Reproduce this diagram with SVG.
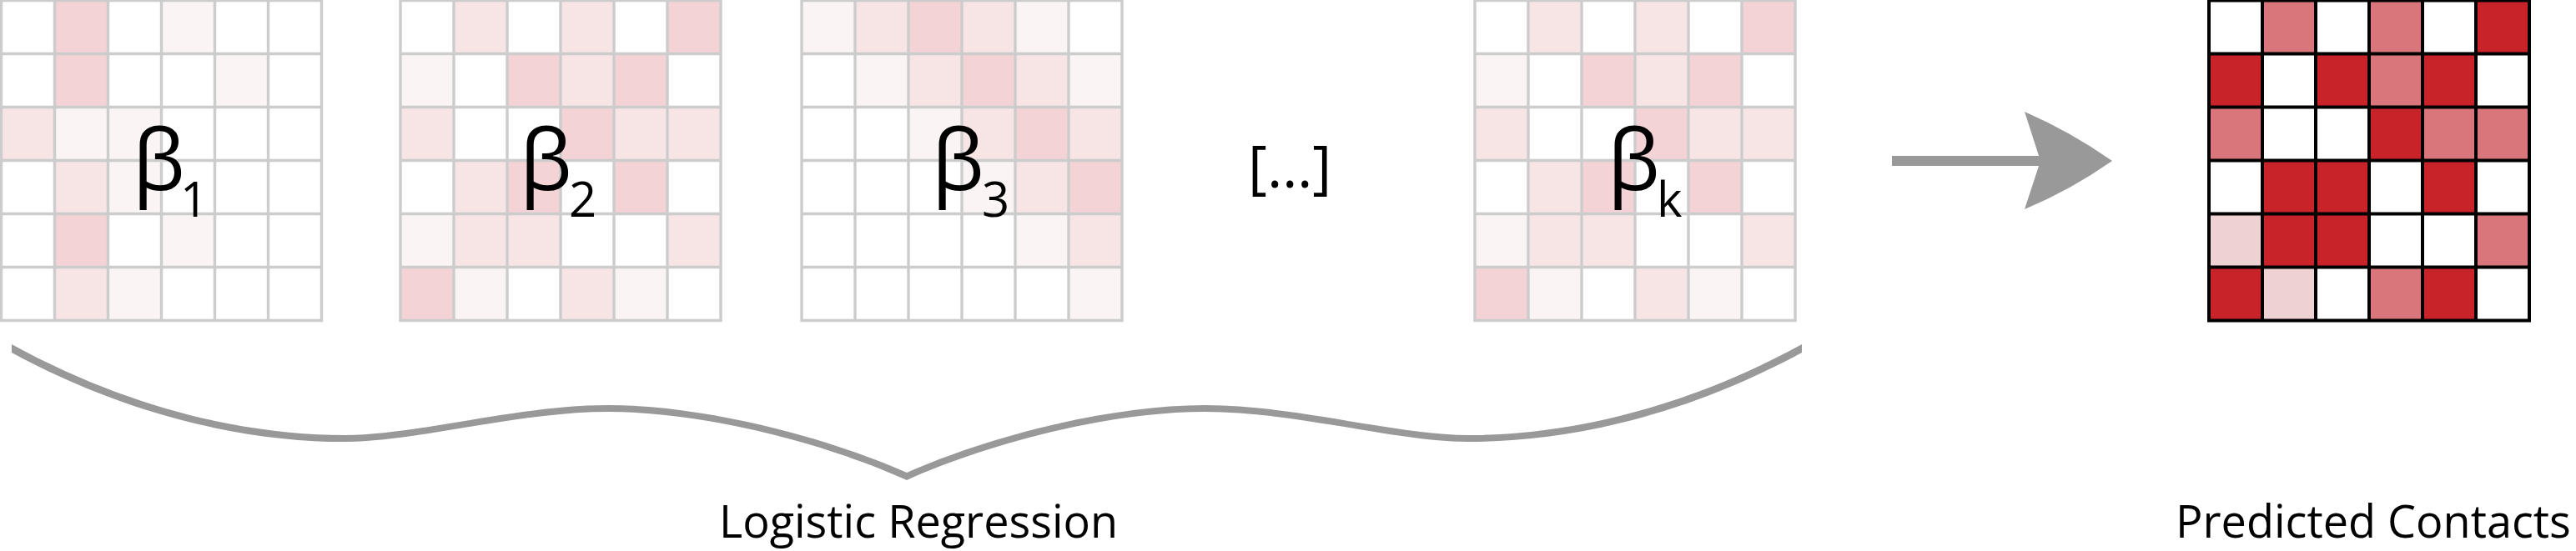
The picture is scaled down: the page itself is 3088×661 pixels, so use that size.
<svg xmlns="http://www.w3.org/2000/svg" xmlns:xlink="http://www.w3.org/1999/xlink" width="3088" height="661" viewBox="0 0 3088 661">
<style>
.bg{fill:#ffffff}
.l1{fill:#fbf4f4}
.l2{fill:#f7e4e5}
.l3{fill:#f4d3d6}
.r{fill:#c9232a}
.m{fill:#d9767c}
.p{fill:#eed2d3}
.gl{fill:none;stroke:#cccccc;stroke-width:3.4;stroke-linecap:square}
.bl{fill:none;stroke:#000000;stroke-width:4;stroke-linecap:square}
.beta{font-family:"Open Sans","Noto Sans",sans-serif;font-size:100px;fill:#000}
.sub{font-size:58px}
.lbl{font-family:"Open Sans","Noto Sans",sans-serif;font-size:54px;fill:#000}
.conn{fill:#999999}
</style>
<defs>
<path id="lines" d="M0,0H384M0,64H384M0,128H384M0,192H384M0,256H384M0,320H384M0,384H384M0,0V384M64,0V384M128,0V384M192,0V384M256,0V384M320,0V384M384,0V384"/>
</defs>
<rect x="0" y="0" width="3088" height="661" fill="#ffffff"/>

<g id="grid1" transform="translate(1.5,0.5)">
<rect class="bg" width="384" height="384"/>
<rect class="l3" x="64" y="0" width="64" height="64"/><rect class="l1" x="192" y="0" width="64" height="64"/>
<rect class="l3" x="64" y="64" width="64" height="64"/><rect class="l1" x="256" y="64" width="64" height="64"/>
<rect class="l2" x="0" y="128" width="64" height="64"/><rect class="l1" x="64" y="128" width="64" height="64"/><rect class="l1" x="128" y="128" width="64" height="64"/>
<rect class="l2" x="64" y="192" width="64" height="64"/><rect class="l1" x="128" y="192" width="64" height="64"/>
<rect class="l3" x="64" y="256" width="64" height="64"/><rect class="l1" x="192" y="256" width="64" height="64"/>
<rect class="l2" x="64" y="320" width="64" height="64"/><rect class="l1" x="128" y="320" width="64" height="64"/>
<use xlink:href="#lines" href="#lines" class="gl"/>
</g>
<g id="beta1">
<text class="beta" x="159" y="228">β<tspan class="sub" x="216" y="260">1</tspan></text>
</g>

<g id="grid2" transform="translate(480,0.5)">
<rect class="bg" width="384" height="384"/>
<rect class="l2" x="64" y="0" width="64" height="64"/><rect class="l2" x="192" y="0" width="64" height="64"/><rect class="l3" x="320" y="0" width="64" height="64"/>
<rect class="l1" x="0" y="64" width="64" height="64"/><rect class="l3" x="128" y="64" width="64" height="64"/><rect class="l2" x="192" y="64" width="64" height="64"/><rect class="l3" x="256" y="64" width="64" height="64"/>
<rect class="l2" x="0" y="128" width="64" height="64"/><rect class="l3" x="192" y="128" width="64" height="64"/><rect class="l2" x="256" y="128" width="64" height="64"/><rect class="l2" x="320" y="128" width="64" height="64"/>
<rect class="l2" x="64" y="192" width="64" height="64"/><rect class="l3" x="128" y="192" width="64" height="64"/><rect class="l3" x="256" y="192" width="64" height="64"/>
<rect class="l1" x="0" y="256" width="64" height="64"/><rect class="l2" x="64" y="256" width="64" height="64"/><rect class="l2" x="128" y="256" width="64" height="64"/><rect class="l2" x="320" y="256" width="64" height="64"/>
<rect class="l3" x="0" y="320" width="64" height="64"/><rect class="l1" x="64" y="320" width="64" height="64"/><rect class="l2" x="192" y="320" width="64" height="64"/><rect class="l1" x="256" y="320" width="64" height="64"/>
<use xlink:href="#lines" href="#lines" class="gl"/>
</g>
<g id="beta2">
<text class="beta" x="623" y="228">β<tspan class="sub" x="682" y="260">2</tspan></text>
</g>

<g id="grid3" transform="translate(961,0.5)">
<rect class="bg" width="384" height="384"/>
<rect class="l1" x="0" y="0" width="64" height="64"/><rect class="l2" x="64" y="0" width="64" height="64"/><rect class="l3" x="128" y="0" width="64" height="64"/><rect class="l2" x="192" y="0" width="64" height="64"/><rect class="l1" x="256" y="0" width="64" height="64"/>
<rect class="l1" x="64" y="64" width="64" height="64"/><rect class="l2" x="128" y="64" width="64" height="64"/><rect class="l3" x="192" y="64" width="64" height="64"/><rect class="l2" x="256" y="64" width="64" height="64"/><rect class="l1" x="320" y="64" width="64" height="64"/>
<rect class="l1" x="128" y="128" width="64" height="64"/><rect class="l2" x="192" y="128" width="64" height="64"/><rect class="l3" x="256" y="128" width="64" height="64"/><rect class="l2" x="320" y="128" width="64" height="64"/>
<rect class="l1" x="192" y="192" width="64" height="64"/><rect class="l2" x="256" y="192" width="64" height="64"/><rect class="l3" x="320" y="192" width="64" height="64"/>
<rect class="l1" x="256" y="256" width="64" height="64"/><rect class="l2" x="320" y="256" width="64" height="64"/>
<rect class="l1" x="320" y="320" width="64" height="64"/>
<use xlink:href="#lines" href="#lines" class="gl"/>
</g>
<g id="beta3">
<text class="beta" x="1117" y="228">β<tspan class="sub" x="1177" y="260">3</tspan></text>
</g>

<g id="ellipsis">
<text x="1496" y="225" font-family="Open Sans, Noto Sans, sans-serif" font-size="70" fill="#000">[…]</text>
</g>

<g id="gridk" transform="translate(1768,0.5)">
<rect class="bg" width="384" height="384"/>
<rect class="l2" x="64" y="0" width="64" height="64"/><rect class="l2" x="192" y="0" width="64" height="64"/><rect class="l3" x="320" y="0" width="64" height="64"/>
<rect class="l1" x="0" y="64" width="64" height="64"/><rect class="l3" x="128" y="64" width="64" height="64"/><rect class="l2" x="192" y="64" width="64" height="64"/><rect class="l3" x="256" y="64" width="64" height="64"/>
<rect class="l2" x="0" y="128" width="64" height="64"/><rect class="l3" x="192" y="128" width="64" height="64"/><rect class="l2" x="256" y="128" width="64" height="64"/><rect class="l2" x="320" y="128" width="64" height="64"/>
<rect class="l2" x="64" y="192" width="64" height="64"/><rect class="l3" x="128" y="192" width="64" height="64"/><rect class="l3" x="256" y="192" width="64" height="64"/>
<rect class="l1" x="0" y="256" width="64" height="64"/><rect class="l2" x="64" y="256" width="64" height="64"/><rect class="l2" x="128" y="256" width="64" height="64"/><rect class="l2" x="320" y="256" width="64" height="64"/>
<rect class="l3" x="0" y="320" width="64" height="64"/><rect class="l1" x="64" y="320" width="64" height="64"/><rect class="l2" x="192" y="320" width="64" height="64"/><rect class="l1" x="256" y="320" width="64" height="64"/>
<use xlink:href="#lines" href="#lines" class="gl"/>
</g>
<g id="betak">
<text class="beta" x="1927" y="228">β<tspan class="sub" x="1986" y="260">k</tspan></text>
</g>

<g id="predicted" transform="translate(2648,0.5)">
<rect class="bg" width="384" height="384"/>
<rect class="m" x="64" y="0" width="64" height="64"/><rect class="m" x="192" y="0" width="64" height="64"/><rect class="r" x="320" y="0" width="64" height="64"/>
<rect class="r" x="0" y="64" width="64" height="64"/><rect class="r" x="128" y="64" width="64" height="64"/><rect class="m" x="192" y="64" width="64" height="64"/><rect class="r" x="256" y="64" width="64" height="64"/>
<rect class="m" x="0" y="128" width="64" height="64"/><rect class="r" x="192" y="128" width="64" height="64"/><rect class="m" x="256" y="128" width="64" height="64"/><rect class="m" x="320" y="128" width="64" height="64"/>
<rect class="r" x="64" y="192" width="64" height="64"/><rect class="r" x="128" y="192" width="64" height="64"/><rect class="r" x="256" y="192" width="64" height="64"/>
<rect class="p" x="0" y="256" width="64" height="64"/><rect class="r" x="64" y="256" width="64" height="64"/><rect class="r" x="128" y="256" width="64" height="64"/><rect class="m" x="320" y="256" width="64" height="64"/>
<rect class="r" x="0" y="320" width="64" height="64"/><rect class="p" x="64" y="320" width="64" height="64"/><rect class="m" x="192" y="320" width="64" height="64"/><rect class="r" x="256" y="320" width="64" height="64"/>
<use xlink:href="#lines" href="#lines" class="bl"/>
</g>

<g id="connectors">
<path id="brace" class="conn" d="M14,413 C164,495 304,522 414,522 C500,522 620,486 729,486 C850,486 997,527 1087,567 C1177,527 1324,486 1445,486 C1554,486 1674,522 1760,522 C1870,522 2010,495 2160,413 L2160,423 C2010,504 1870,530 1760,530 C1674,530 1554,494 1445,494 C1324,494 1177,535 1087,576 C997,535 850,494 729,494 C620,494 500,530 414,530 C304,530 164,504 14,423 Z"/>
<g id="arrow">
<rect class="conn" x="2268" y="187" width="180" height="12"/>
<path class="conn" d="M2532,193 Q2482,158 2427,134 L2446,193 L2427,251 Q2482,228 2532,193 Z"/>
</g>
</g>

<g id="label-lr">
<text class="lbl" x="862" y="645">Logistic Regression</text>
</g>
<g id="label-pc">
<text class="lbl" x="2608" y="645">Predicted Contacts</text>
</g>
</svg>
